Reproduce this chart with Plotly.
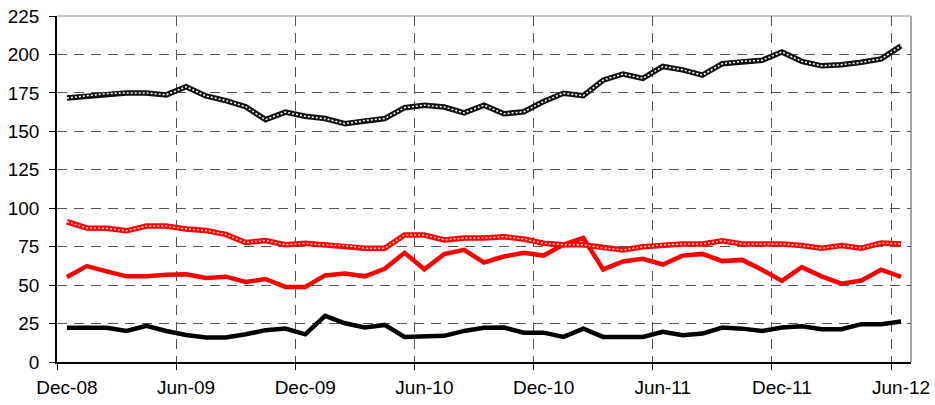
import plotly.graph_objects as go

tick_labels = ["Dec-08", "Jun-09", "Dec-09", "Jun-10", "Dec-10", "Jun-11", "Dec-11", "Jun-12"]

black_pattern = [171.7, 173, 174.5, 175, 175, 173.7, 179, 173, 170, 166, 157.6,
                 162.5, 159.8, 158.3, 155, 157, 158.3, 165.4, 167, 165.8, 162, 167,
                 161.4, 162.7, 169.4, 174.8, 173.2, 183.3, 187.3, 184.4, 192.2, 190,
                 186.6, 194, 195.5, 196.2, 201.6, 195.5, 192.6, 193.3, 194.9, 197.1, 205.6]

red_pattern = [91.2, 87.2, 87, 85.3, 88.4, 88.4, 86.5, 85.5, 83, 77.7, 79, 76.3,
               77.2, 76.1, 75.7, 74, 74, 82.6, 82.6, 79.4, 80.6, 80.6, 81.5, 80,
               77.2, 76.3, 76.3, 74.2, 72.9, 75, 76.1, 76.8, 76.8, 78.9, 76.8, 76.8,
               76.8, 75.7, 74, 75.7, 74, 77.4, 76.8]

red_solid = [55.3, 62.4, 58.9, 55.7, 55.7, 56.8, 57, 54.6, 55.5, 52, 54, 48.8,
             48.8, 56.3, 57.5, 55.7, 60.6, 71, 60.3, 70.2, 72.9, 64.7, 68.6, 71,
             69.2, 76.3, 80.6, 60.2, 65.4, 67.1, 63.4, 69.2, 70.3, 65.6, 66.4, 60,
             52.7, 61.7, 55.7, 50.9, 53, 60, 55.3]

black_solid = [22.2, 22.2, 22.2, 20.2, 23.5, 20.2, 17.6, 15.9, 15.9, 18, 20.7,
               21.7, 18, 30, 25.2, 22.4, 24.1, 16.3, 17, 17, 20.2, 22.2, 22.4,
               19.1, 19.1, 16.3, 21.7, 16.3, 16.3, 16.3, 19.6, 17.4, 18.5, 22.4,
               21.7, 20.2, 22.4, 23.3, 21.3, 21.3, 24.6, 24.6, 26.3]

n = len(black_pattern)
x = list(range(n))
label_pos = list(range(0, n, 6))
boundaries = [p - 0.5 for p in label_pos]

fig = go.Figure()

def add_line(vals, color, width, dash=None, xa="x"):
    fig.add_trace(go.Scatter(x=x, y=vals, mode="lines", xaxis=xa,
                             line=dict(color=color, width=width, dash=dash),
                             showlegend=False, hoverinfo="skip"))

add_line(black_solid, "black", 4.5, xa="x2")
add_line(red_solid, "#ff0000", 4.5)
add_line(red_pattern, "#ff0000", 5.5)
add_line(red_pattern, "#ffd0d0", 1.5, "2px,2px")
add_line(black_pattern, "#111111", 5.5)
add_line(black_pattern, "#ffffff", 1.5, "2px,2px")

grid_color = "#555555"
font = dict(family="Liberation Sans, Arial, sans-serif", size=19, color="black")

fig.update_layout(
    width=935, height=405,
    margin=dict(l=57, r=24, t=16, b=43, autoexpand=False),
    paper_bgcolor="white", plot_bgcolor="white",
    font=font,
    xaxis=dict(range=[-0.5, n - 0.5], tickmode="array", tickvals=boundaries,
               showticklabels=False, ticks="outside", ticklen=6, tickcolor="black",
               showgrid=True, gridcolor=grid_color, griddash="10px,7px", gridwidth=1,
               showline=True, linecolor="black", linewidth=1.5, zeroline=False,
               automargin=False),
    xaxis2=dict(range=[-0.5, n - 0.5], overlaying="x", side="bottom", anchor="y",
                tickmode="array", tickvals=label_pos, ticktext=tick_labels,
                ticks="outside", ticklen=8, tickcolor="rgba(0,0,0,0)",
                showgrid=False, showline=False, zeroline=False, tickfont=font,
                automargin=False, ticklabeloverflow="allow"),
    yaxis=dict(range=[0, 225], tickmode="array", tickvals=list(range(0, 226, 25)),
               ticks="outside", ticklen=6, tickcolor="black", ticklabelstandoff=6,
               showgrid=True, gridcolor=grid_color, griddash="10px,7px", gridwidth=1,
               showline=True, linecolor="black", linewidth=1.5, zeroline=False,
               tickfont=font, automargin=False, ticklabeloverflow="allow"),
)

# light plot-area border on top and right
fig.add_shape(type="line", xref="paper", yref="paper", x0=1, x1=1, y0=0, y1=1,
              line=dict(color="#888888", width=1.5), layer="below")
fig.add_shape(type="line", xref="paper", yref="paper", x0=0, x1=1, y0=1, y1=1,
              line=dict(color="#888888", width=1), layer="below")

fig.write_html("out.html", config={"displayModeBar": False},
               post_script="document.body.style.margin='0';document.body.style.overflow='hidden';")
